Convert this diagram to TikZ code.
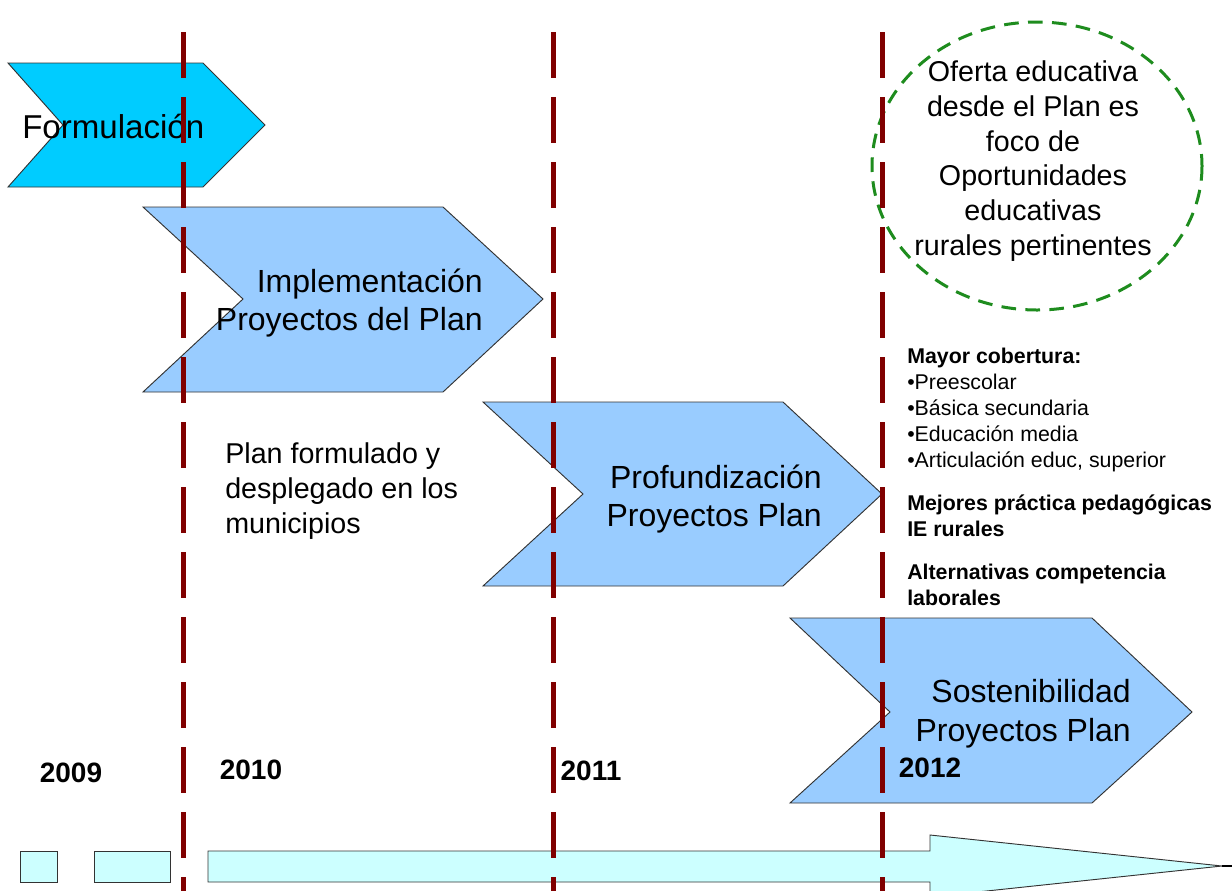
\documentclass[tikz,border=0pt]{standalone}
\usepackage{fontspec}
\setmainfont{Liberation Sans}
\usetikzlibrary{positioning}
\definecolor{formcyan}{HTML}{00CCFF}
\definecolor{phaseblue}{HTML}{99CCFF}
\definecolor{axiscyan}{HTML}{CCFFFF}
\definecolor{yearred}{HTML}{800000}
\definecolor{ovalgreen}{HTML}{1E8C1E}
\tikzset{
  phase/.style={draw=black!80,line width=0.7pt,fill=phaseblue},
  phasetext/.style={font=\fontsize{24}{29}\selectfont,align=right,anchor=east,inner sep=0pt},
  yearlbl/.style={font=\fontsize{21}{25}\selectfont\bfseries,inner sep=0pt},
  yearline/.style={yearred,line width=3.75pt,dash pattern=on 34.5pt off 14.25pt},
}
\begin{document}
\begin{tikzpicture}[x=0.75pt,y=-0.75pt]
            \useasboundingbox (0,0) rectangle (1232,890);
            % chevrons of the phases
            \draw[phase,fill=formcyan] (8,63) -- (203,63) -- (265,125) -- (203,187) -- (8,187) -- (63,125) -- cycle;
            \draw[phase] (143,207) -- (443,207) -- (543,299) -- (443,392) -- (143,392) -- (243,299) -- cycle;
            \draw[phase] (483,402) -- (783,402) -- (882,494) -- (783,586) -- (483,586) -- (583,494) -- cycle;
            \draw[phase] (790,618) -- (1092,618) -- (1192,712) -- (1092,803) -- (790,803) -- (890,712) -- cycle;
            \node[font=\fontsize{24.8}{29}\selectfont,anchor=west,inner sep=0pt] (form) at (22,126) {Formulación};
            \node[phasetext] (impl) at (483,303) {Implementación\\Proyectos del Plan};
            \node[phasetext] (prof) at (822,499) {Profundización\\Proyectos Plan};
            \node[phasetext] (sost) at (1131,714) {Sostenibilidad\\Proyectos Plan};
            % time axis
            \draw[draw=black!80,line width=0.7pt,fill=axiscyan] (20,851) rectangle (57,882);
            \draw[draw=black!80,line width=0.7pt,fill=axiscyan] (94,851) rectangle (170,882);
            \draw[draw=black!80,line width=0.7pt,fill=axiscyan] (208,851) -- (930,851) -- (930,835) -- (1222,866) -- (930,897) -- (930,882) -- (208,882) -- cycle;
            \draw[black,line width=1pt] (1222,866) -- (1232,866);
            % texts
            \node[font=\fontsize{21.5}{26}\selectfont,align=left,anchor=west,inner sep=0pt] (desc) at (225,491) {Plan formulado y\\desplegado en los\\municipios};
            \node[font=\fontsize{21.5}{26}\selectfont,align=center,inner sep=0pt] (ofer) at (1033,161) {Oferta educativa\\desde el Plan es\\foco de\\Oportunidades\\educativas\\rurales pertinentes};
            \draw[ovalgreen,line width=2.25pt,dash pattern=on 11pt off 7pt] (1037,166) ellipse [x radius=165, y radius=144];
            \node[font=\fontsize{16}{19.5}\selectfont,align=left,anchor=north west,inner sep=0pt] (logros) at (907,348)
              {\textbf{Mayor cobertura:}\\\textbullet Preescolar\\\textbullet Básica secundaria\\\textbullet Educación media\\\textbullet Articulación educ, superior\\[12.5pt]
               \textbf{Mejores práctica pedagógicas}\\\textbf{IE rurales}\\[12.5pt]
               \textbf{Alternativas competencia}\\\textbf{laborales}};
            \node[yearlbl] (y09) at (71,773) {2009};
            \node[yearlbl] (y10) at (251,770) {2010};
            \node[yearlbl] (y11) at (591,771) {2011};
            \node[yearlbl] (y12) at (930,768) {2012};
            % year boundaries
            \foreach \xx in {183,553,882}
              \draw[yearline] (\xx,32) -- (\xx,892);
        \end{tikzpicture}
\end{document}
